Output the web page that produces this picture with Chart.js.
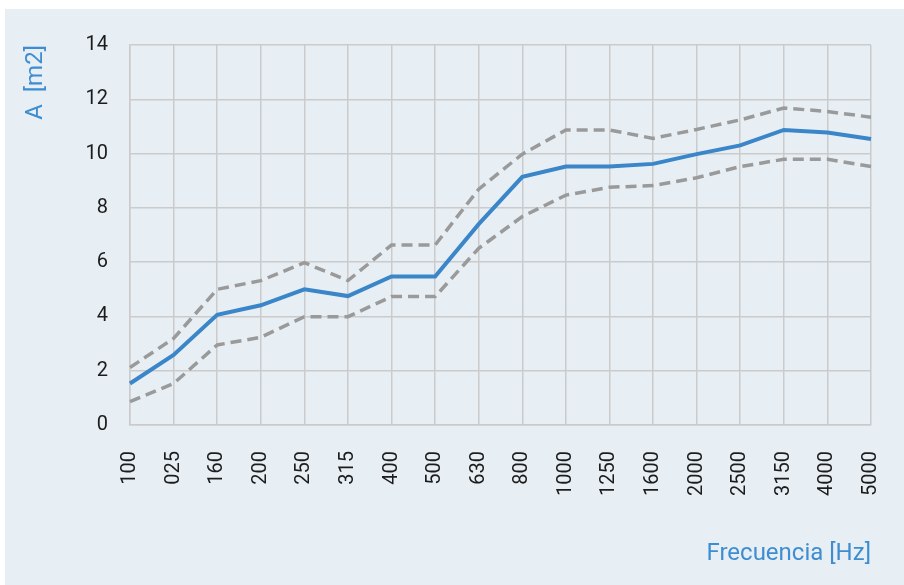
<!DOCTYPE html>
<html>
<head>
<meta charset="utf-8">
<script src="https://cdn.jsdelivr.net/npm/chart.js@4/dist/chart.umd.min.js"></script>
<style>
  html, body { margin: 0; padding: 0; background: #fff; }
  #panel { position: absolute; left: 5px; top: 9px; width: 899px; height: 576px; background: #e7eff5; }
  canvas { display: block; }
</style>
</head>
<body>
<div id="panel"><canvas id="chart" width="899" height="576"></canvas></div>
<script>
// frequency bands (labels as shown on the original)
const bands = ['100', '025', '160', '200', '250', '315', '400', '500', '630', '800',
  '1000', '1250', '1600', '2000', '2500', '3150', '4000', '5000'];

// absorption area A [m2]
const meanA = [1.53, 2.58, 4.06, 4.41, 5.0, 4.75, 5.47, 5.47, 7.4, 9.14,
  9.52, 9.52, 9.62, 9.98, 10.3, 10.87, 10.78, 10.54];
const upperA = [2.12, 3.19, 5.0, 5.32, 5.98, 5.32, 6.63, 6.63, 8.69, 9.98,
  10.87, 10.87, 10.56, 10.89, 11.24, 11.68, 11.55, 11.34];
const lowerA = [0.86, 1.53, 2.95, 3.23, 3.99, 3.99, 4.73, 4.73, 6.51, 7.68,
  8.47, 8.76, 8.82, 9.11, 9.52, 9.79, 9.79, 9.52];

const yMin = 0, yMax = 14, yStep = 2;

const gridCol = '#cbcbcb';
const blue = '#3a86c8';
const titleBlue = '#3f8dd1';
const tickFont = { family: 'Roboto', size: 20 };
const titleFont = { family: 'Roboto', size: 24 };

const dashed = (data) => ({
  data,
  borderColor: '#9a9a9a',
  borderWidth: 3.5,
  borderDash: [11, 6],
  pointRadius: 0,
  fill: false,
  tension: 0,
});

new Chart(document.getElementById('chart'), {
  type: 'line',
  data: {
    labels: bands,
    datasets: [
      dashed(upperA),
      dashed(lowerA),
      { data: meanA, borderColor: blue, borderWidth: 4, pointRadius: 0, fill: false, tension: 0 },
    ],
  },
  options: {
    responsive: false,
    animation: false,
    layout: { padding: { left: 0, right: 33, top: 36, bottom: 0 } },
    plugins: { legend: { display: false }, tooltip: { enabled: false } },
    scales: {
      x: {
        offset: false,
        grid: { color: gridCol, lineWidth: 1.5, drawTicks: false },
        border: { color: gridCol, width: 1.5 },
        ticks: { color: '#1c1c1c', font: tickFont, minRotation: 90, maxRotation: 90, padding: 26, autoSkip: false },
        title: {
          display: true, text: 'Frecuencia [Hz]', align: 'end',
          color: titleBlue, font: titleFont, padding: { top: 0, bottom: 17 },
        },
        afterFit: (s) => { s.height = 160; s.paddingLeft = 0; s.paddingRight = 0; },
      },
      y: {
        min: yMin, max: yMax,
        grid: { color: gridCol, lineWidth: 1.5, drawTicks: false },
        border: { color: gridCol, width: 1.5 },
        ticks: { stepSize: yStep, color: '#1c1c1c', font: tickFont, padding: 22 },
        title: {
          display: true, text: 'A  [m2]', align: 'end',
          color: titleBlue, font: titleFont, padding: { top: 17, bottom: 0 },
        },
        afterFit: (s) => { s.width = 125; },
      },
    },
  },
});
</script>
</body>
</html>
